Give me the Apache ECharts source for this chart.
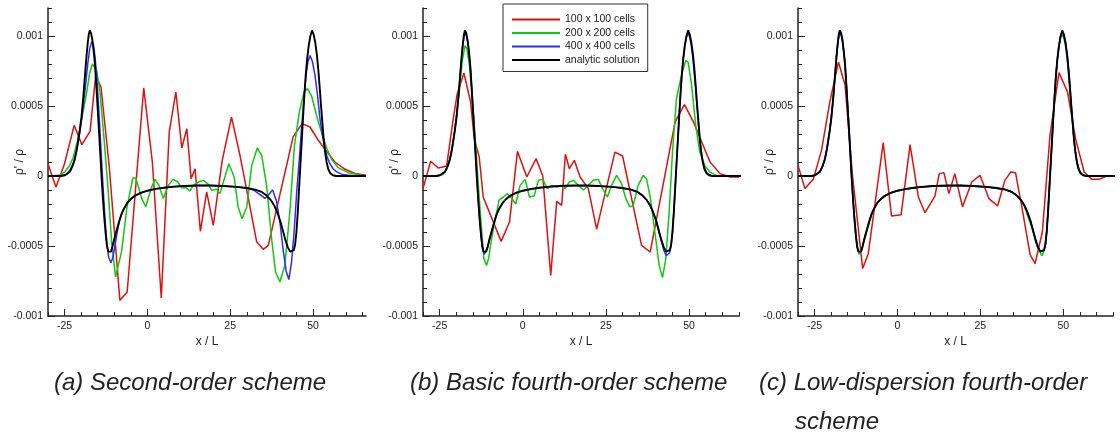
<!DOCTYPE html>
<html>
<head>
<meta charset="utf-8">
<script src="https://cdn.jsdelivr.net/npm/echarts@6/dist/echarts.min.js"></script>
<style>
  html, body { margin: 0; padding: 0; background: #fff; }
  #chart { width: 1120px; height: 440px; }
</style>
</head>
<body>
<div id="chart"></div>
<script>
// axis ticks / labels
const xMajorTicks = [-25, 0, 25, 50];
const xMinorTicks = [-30, -20, -15, -10, -5, 5, 10, 15, 20, 30, 35, 40, 45, 55, 60, 65];
const yMajorTicks = [-0.001, -0.0005, 0, 0.0005, 0.001];
const yTickLabels = ["-0.001", "-0.0005", "0", "0.0005", "0.001"];
const yMinorTicks = [-0.0009, -0.0008, -0.0007, -0.0006, -0.0004, -0.0003, -0.0002, -0.0001,
  0.0001, 0.0002, 0.0003, 0.0004, 0.0006, 0.0007, 0.0008, 0.0009, 0.0011, 0.0012];
const seriesNames = ["100 x 100 cells", "200 x 200 cells", "400 x 400 cells", "analytic solution"];
const captions = ["(a) Second-order scheme", "(b) Basic fourth-order scheme", "(c) Low-dispersion fourth-order", "scheme"];

// analytic solution (same in all panels)
const analytic = [[-30,0],[-26,0],[-24.9,0.000005],[-23.4,0.00003],[-22.6,0.00007],[-21.9,0.00012],[-21.3,0.00019],[-20.9,0.00025],[-20.4,0.00033],[-19.9,0.00042],[-19.4,0.00055],[-18.9,0.0007],[-18.4,0.00085],[-18.0,0.00095],[-17.7,0.00101],[-17.4,0.00104],[-17.0,0.00102],[-16.6,0.00097],[-16.2,0.00089],[-15.8,0.00079],[-15.4,0.00064],[-15.0,0.00048],[-14.6,0.00032],[-14.2,0.00015],[-13.8,-0.00002],[-13.4,-0.00017],[-13.0,-0.0003],[-12.6,-0.00041],[-12.2,-0.0005],[-11.8,-0.00054],[-11.4,-0.00055],[-11.0,-0.00054],[-10.6,-0.00051],[-10.0,-0.00045],[-9.3,-0.00039],[-8.6,-0.00033],[-7.8,-0.00027],[-7.0,-0.00023],[-6.0,-0.00019],[-5.0,-0.000165],[-3.7,-0.00014],[-2.0,-0.00012],[0,-0.000105],[2.5,-0.000092],[5,-0.000084],[8,-0.000076],[11,-0.000071],[15,-0.000068],[19,-0.000068],[23,-0.000071],[27,-0.000078],[30,-0.000086],[32.5,-0.000097],[34.5,-0.000114],[36,-0.00014],[37.2,-0.00017],[38.3,-0.00021],[39.2,-0.00026],[40.1,-0.00032],[40.9,-0.00039],[41.7,-0.00046],[42.4,-0.00051],[43.1,-0.00054],[43.7,-0.00055],[44.2,-0.00053],[44.6,-0.00049],[45.0,-0.0004],[45.4,-0.00026],[45.8,-0.00009],[46.2,0.00008],[46.6,0.00025],[47.0,0.00042],[47.4,0.00058],[47.8,0.00072],[48.2,0.00083],[48.7,0.00093],[49.2,0.001],[49.7,0.00104],[50.2,0.00101],[50.7,0.00095],[51.2,0.00086],[51.6,0.00076],[52.0,0.00064],[52.4,0.00051],[52.8,0.00039],[53.2,0.00027],[53.6,0.00018],[54.1,0.0001],[54.6,0.00005],[55.2,0.00002],[56,0.000005],[57,0],[66,0]];

// (a) second-order scheme
const redA = [[-30,0.000085],[-27.6,-0.000079],[-25.1,0.00008],[-22.1,0.000362],[-19.8,0.000224],[-17.3,0.000319],[-15.6,0.000719],[-14.0,0.000636],[-11.5,0.000064],[-8.3,-0.000888],[-6.1,-0.000829],[-1.1,0.000629],[1.5,0.0001],[4.2,-0.000871],[6.6,0.000314],[8.6,0.0006],[10.4,0.0002],[11.9,0.000338],[13.2,-0.000019],[14.4,0.000052],[16.0,-0.000395],[17.9,-0.000114],[19.9,-0.000352],[22.6,0.000112],[25.4,0.000421],[27.95,0.000148],[30.5,-0.000162],[33.0,-0.000471],[35.0,-0.000524],[36.5,-0.000495],[44.0,0.000279],[46.7,0.000374],[49.1,0.00035],[51.6,0.000255],[54.1,0.000176],[56.6,0.0001],[59.7,0.000048],[62.5,0.00002],[66,0.000005]];
const greenA = [[-30,0],[-26.5,0.000005],[-24.9,0.00003],[-23.6,0.00007],[-22.4,0.00013],[-21.1,0.00025],[-19.8,0.00041],[-18.3,0.0006],[-17.4,0.00074],[-16.6,0.0008],[-15.3,0.000755],[-14.3,0.0006],[-13.0,0.000243],[-11.8,-0.000114],[-10.8,-0.00047],[-9.6,-0.00072],[-7.8,-0.00054],[-6.2,-0.00023],[-4.4,-0.000014],[-3.5,-0.000014],[-1.7,-0.00016],[-0.5,-0.00022],[1.1,-0.00009],[2.3,-0.000024],[3.5,-0.000067],[4.8,-0.00016],[6.3,-0.000067],[7.8,-0.000024],[9.2,-0.000043],[10.4,-0.000086],[11.6,-0.000083],[12.8,-0.000107],[13.9,-0.000067],[15.4,-0.000043],[16.9,-0.000031],[18.4,-0.00006],[19.4,-0.000102],[20.9,-0.000095],[21.9,-0.000126],[24.6,0.000088],[26.2,-0.000007],[27.4,-0.000221],[28.6,-0.000305],[30.0,-0.000221],[31.5,0.000076],[33.2,0.0002],[34.5,0.000148],[36.0,-0.000067],[37.5,-0.000448],[38.7,-0.000686],[40.0,-0.000757],[41.5,-0.000638],[43.0,-0.000257],[44.4,0.000219],[45.9,0.00046],[47.3,0.0006],[48.3,0.000624],[49.6,0.00057],[51.1,0.00043],[52.6,0.00031],[54.1,0.0002],[55.6,0.00012],[57.6,0.00006],[60.6,0.000024],[64.7,0.000005],[66,0.000003]];
const blueA = [[-30,0],[-26,0.000003],[-24.5,0.00001],[-23.4,0.00004],[-22.4,0.00009],[-21.4,0.00018],[-20.4,0.00031],[-19.5,0.00047],[-18.7,0.00064],[-18.0,0.0008],[-17.4,0.00091],[-16.8,0.00096],[-16.3,0.00094],[-15.8,0.00085],[-15.3,0.00071],[-14.8,0.00053],[-14.3,0.00032],[-13.8,0.0001],[-13.3,-0.00011],[-12.8,-0.0003],[-12.3,-0.00046],[-11.7,-0.00058],[-11.0,-0.00062],[-10.4,-0.00058],[-9.8,-0.0005],[-9.1,-0.0004],[-8.3,-0.00031],[-7.4,-0.00025],[-6.3,-0.0002],[-5.0,-0.000165],[-3.7,-0.00014],[-2,-0.00012],[0,-0.000105],[2.5,-0.000092],[5,-0.000084],[8,-0.000076],[11,-0.000071],[15,-0.000068],[19,-0.000068],[23,-0.000071],[27,-0.000078],[30,-0.000086],[32,-0.0001],[33.8,-0.00013],[35.5,-0.00016],[36.7,-0.00013],[37.8,-0.0001],[39.0,-0.00018],[40.0,-0.00033],[41.0,-0.00053],[41.9,-0.00068],[42.7,-0.00074],[43.5,-0.00062],[44.3,-0.0004],[45.1,-0.00011],[45.9,0.00013],[46.6,0.00036],[47.3,0.00056],[47.9,0.00072],[48.5,0.00082],[49.1,0.00086],[49.8,0.00082],[50.6,0.00072],[51.4,0.00057],[52.1,0.00041],[52.8,0.0003],[53.4,0.00022],[54.2,0.00014],[55.1,0.000088],[56.1,0.00005],[57.2,0.000029],[59,0.00001],[62,0.000002],[66,0]];

// (b) basic fourth-order scheme
const redB = [[-30,-0.00009],[-27.7,0.000105],[-25.4,0.000057],[-22.9,0.000071],[-20.9,0.00041],[-19.7,0.000588],[-17.7,0.000736],[-15.7,0.000529],[-14.6,0.000267],[-13.1,0.000136],[-11.9,-0.00015],[-6.5,-0.000467],[-4.0,-0.000329],[-1.6,0.000176],[1.2,-0.000007],[4.0,0.000124],[6.0,0.0],[8.4,-0.00071],[10.2,-0.000181],[11.7,-0.00021],[12.8,0.000155],[14.0,0.000052],[15.5,0.000112],[17.2,-0.000005],[19.7,-0.00009],[22.2,-0.00038],[27.7,0.000171],[30.0,0.000143],[35.7,-0.000495],[38.3,-0.000543],[45.8,0.000386],[48.6,0.00051],[51.3,0.000386],[53.8,0.000243],[56.3,0.0001],[59.3,0.000017],[62.3,-0.000007],[65,-0.000007]];
const greenB = [[-30,0],[-26,0.000002],[-24,0.00001],[-22.8,0.00005],[-21.9,0.00012],[-20.9,0.00025],[-19.9,0.00043],[-19.0,0.00063],[-18.2,0.00082],[-17.4,0.00093],[-16.8,0.00091],[-16.1,0.0008],[-15.4,0.00062],[-14.7,0.0004],[-14.0,0.00016],[-13.2,-0.00012],[-12.4,-0.00038],[-11.7,-0.00059],[-10.9,-0.00064],[-10.2,-0.00058],[-9.4,-0.00045],[-8.2,-0.0003],[-7.1,-0.00017],[-5.8,-0.00015],[-4.6,-0.000126],[-3.3,-0.00016],[-2.1,-0.0002],[-0.8,-0.000067],[0.7,-0.000024],[2.0,-0.00015],[3.4,-0.000143],[4.7,-0.000031],[6.0,-0.000024],[7.4,-0.00009],[8.7,-0.000067],[10.2,-0.000079],[11.4,-0.000067],[12.7,-0.00009],[14.0,-0.000043],[15.2,-0.000031],[16.7,-0.000067],[18.2,-0.0001],[19.7,-0.000067],[21.2,-0.000031],[22.7,-0.000024],[24.0,-0.00009],[25.4,-0.00015],[26.7,-0.000067],[28.2,0.000005],[29.7,-0.000055],[31.0,-0.000162],[32.2,-0.000221],[33.2,-0.00021],[34.7,-0.000067],[36.2,0.000005],[37.2,-0.000019],[38.4,-0.000162],[39.7,-0.0004],[41.0,-0.000638],[42.0,-0.000726],[43.0,-0.00059],[44.0,-0.000257],[45.0,0.000171],[46.2,0.000552],[47.7,0.000719],[49.0,0.000826],[49.7,0.000814],[50.7,0.00066],[52.0,0.000362],[53.2,0.000171],[54.7,0.000076],[56.2,0.000029],[58.2,0.000003],[65,0]];
const blueB = [[-30,0],[-26,0],[-24.9,0.000006],[-23.4,0.00003],[-22.6,0.00007],[-21.9,0.00012],[-21.3,0.00019],[-20.4,0.00033],[-19.4,0.00055],[-18.9,0.0007],[-18.4,0.00084],[-18.0,0.00094],[-17.6,0.001],[-17.3,0.00102],[-16.9,0.001],[-16.5,0.00095],[-16.1,0.00087],[-15.7,0.00076],[-15.3,0.00061],[-14.9,0.00045],[-14.5,0.00029],[-14.1,0.00012],[-13.7,-0.00005],[-13.3,-0.0002],[-12.9,-0.00033],[-12.5,-0.00044],[-12.1,-0.00052],[-11.6,-0.00056],[-11.1,-0.00055],[-10.6,-0.00051],[-10.0,-0.00045],[-9.3,-0.00039],[-8.6,-0.00033],[-7.8,-0.00027],[-7.0,-0.00023],[-6.0,-0.00019],[-5.0,-0.000165],[-3.7,-0.00014],[-2.0,-0.00012],[0,-0.000105],[5,-0.000084],[11,-0.000071],[19,-0.000068],[27,-0.000078],[32.5,-0.000097],[34.5,-0.000114],[36,-0.00014],[37.2,-0.00017],[38.3,-0.00021],[39.2,-0.00026],[40.1,-0.00032],[40.9,-0.0004],[41.7,-0.00047],[42.4,-0.00053],[43.1,-0.00057],[43.6,-0.00058],[44.1,-0.00055],[44.6,-0.0005],[45.0,-0.0004],[45.4,-0.00026],[45.8,-0.00009],[46.2,0.00008],[46.6,0.00025],[47.0,0.00042],[47.4,0.00058],[47.8,0.00072],[48.2,0.00083],[48.7,0.00093],[49.2,0.00099],[49.6,0.00102],[50.1,0.001],[50.6,0.00094],[51.1,0.00085],[51.5,0.00075],[51.9,0.00064],[52.3,0.00052],[52.7,0.0004],[53.1,0.00029],[53.5,0.0002],[54.0,0.00012],[54.6,0.00006],[55.2,0.000025],[56,0.000008],[57,0],[65,0]];

// (c) low-dispersion fourth-order scheme
const redC = [[-30,0.000076],[-27.9,-0.00009],[-25.4,-0.000024],[-22.9,0.000183],[-20.4,0.000529],[-17.8,0.000814],[-15.8,0.000648],[-13.6,0.00001],[-10.5,-0.00066],[-8.8,-0.000555],[-4.3,0.000238],[-1.8,-0.000286],[1.1,-0.000276],[3.8,0.000224],[6.3,-0.00015],[8.3,-0.000262],[11.3,-0.000143],[12.6,0.000017],[14.0,0.000024],[15.5,-0.000126],[17.3,0.000017],[19.6,-0.000221],[22.4,-0.000043],[24.9,0.000005],[27.6,-0.000162],[30.2,-0.000214],[32.4,-0.000031],[34.2,0.000029],[35.6,0.000024],[37.8,-0.00026],[40.0,-0.000562],[41.5,-0.000626],[43.7,-0.0004],[46.0,0.00029],[48.7,0.000738],[51.3,0.0006],[53.7,0.000267],[56.3,0.000029],[58.6,-0.000024],[60.8,-0.000024],[63.1,0],[65,0]];
const greenC = [[-30,0],[-26,0],[-24.9,0.000006],[-23.4,0.00003],[-22.6,0.00007],[-21.9,0.00012],[-21.3,0.00019],[-20.4,0.00033],[-19.4,0.00055],[-18.9,0.0007],[-18.4,0.00085],[-18.0,0.00095],[-17.6,0.001],[-17.3,0.00102],[-16.9,0.001],[-16.5,0.00095],[-16.1,0.00087],[-15.7,0.00077],[-15.3,0.00062],[-14.9,0.00046],[-14.5,0.0003],[-14.1,0.00013],[-13.7,-0.00004],[-13.3,-0.00019],[-12.9,-0.00032],[-12.5,-0.00043],[-12.1,-0.00051],[-11.6,-0.00056],[-11.1,-0.00055],[-10.6,-0.00051],[-10.0,-0.00046],[-9.3,-0.0004],[-8.6,-0.00034],[-7.8,-0.00028],[-7.0,-0.00023],[-6.0,-0.00019],[-5.0,-0.000165],[-3.7,-0.00014],[-2.0,-0.00012],[0,-0.000105],[5,-0.000084],[11,-0.000071],[19,-0.000068],[27,-0.000078],[32.5,-0.000097],[34.5,-0.000116],[36,-0.00014],[37.2,-0.00017],[38.3,-0.00022],[39.2,-0.00028],[40.1,-0.00034],[40.9,-0.0004],[41.7,-0.00047],[42.4,-0.00052],[43.1,-0.00055],[43.6,-0.00057],[44.1,-0.00054],[44.6,-0.00049],[45.0,-0.0004],[45.4,-0.00026],[45.8,-0.00009],[46.2,0.00008],[46.6,0.00025],[47.0,0.00042],[47.4,0.00058],[47.8,0.00072],[48.2,0.00083],[48.7,0.00093],[49.2,0.00099],[49.6,0.00101],[50.1,0.00099],[50.6,0.00094],[51.1,0.00085],[51.5,0.00075],[51.9,0.00064],[52.3,0.00052],[52.7,0.0004],[53.1,0.00029],[53.5,0.0002],[54.0,0.00012],[54.6,0.00006],[55.2,0.000025],[56,0.000008],[57,0],[65,0]];
const blueC = [[-30,0],[-26,0],[-24.9,0.000005],[-23.4,0.00003],[-22.6,0.00007],[-21.9,0.00012],[-21.3,0.00019],[-20.4,0.00033],[-19.4,0.00055],[-18.9,0.0007],[-18.4,0.00085],[-18.0,0.00095],[-17.7,0.00101],[-17.4,0.00104],[-17.0,0.00102],[-16.6,0.00097],[-16.2,0.00089],[-15.8,0.00079],[-15.4,0.00064],[-15.0,0.00048],[-14.6,0.00032],[-14.2,0.00015],[-13.8,-0.00002],[-13.4,-0.00017],[-13.0,-0.0003],[-12.6,-0.00041],[-12.2,-0.0005],[-11.8,-0.00054],[-11.4,-0.00055],[-11.0,-0.00054],[-10.6,-0.00051],[-10.0,-0.00045],[-9.3,-0.00039],[-8.6,-0.00033],[-7.8,-0.00027],[-7.0,-0.00023],[-6.0,-0.00019],[-5.0,-0.000165],[-3.7,-0.00014],[-2.0,-0.00012],[0,-0.000105],[5,-0.000084],[11,-0.000071],[19,-0.000068],[27,-0.000078],[32.5,-0.000097],[34.5,-0.000114],[36,-0.00014],[37.2,-0.00017],[38.3,-0.00021],[39.2,-0.00026],[40.1,-0.00032],[40.9,-0.00039],[41.7,-0.00046],[42.4,-0.00051],[43.1,-0.00054],[43.7,-0.00055],[44.2,-0.00053],[44.6,-0.00049],[45.0,-0.0004],[45.4,-0.00026],[45.8,-0.00009],[46.2,0.00008],[46.6,0.00025],[47.0,0.00042],[47.4,0.00058],[47.8,0.00072],[48.2,0.00083],[48.7,0.00093],[49.2,0.001],[49.7,0.00103],[50.2,0.001],[50.7,0.00095],[51.2,0.00086],[51.6,0.00076],[52.0,0.00064],[52.4,0.00051],[52.8,0.00039],[53.2,0.00027],[53.6,0.00018],[54.1,0.0001],[54.6,0.00005],[55.2,0.00002],[56,0.000005],[57,0],[65,0]];

const panelData = [
  [redA, greenA, blueA, analytic],
  [redB, greenB, blueB, analytic],
  [redC, greenC, blueC, analytic],
];

const colors = ["#dd1111", "#11c811", "#2b2bff", "#000000"];
const widths = [1.5, 1.5, 1.5, 1.9];
const fontFam = '"Liberation Sans", Arial, sans-serif';
const axisColor = "#222";

const panels = [
  { left: 48, width: 318, xMax: 66 },
  { left: 423, width: 316, xMax: 65 },
  { left: 798, width: 315, xMax: 65 },
];

const chart = echarts.init(document.getElementById("chart"), null, { renderer: "canvas" });

function yLabel(v) {
  for (let i = 0; i < yMajorTicks.length; i++) {
    if (Math.abs(v - yMajorTicks[i]) < 1e-9) return yTickLabels[i];
  }
  return "";
}

let grid = [], xAxis = [], yAxis = [], series = [];
panels.forEach((p, k) => {
  grid.push({ left: p.left, top: 8, width: p.width, height: 308 });
  // main x axis
  xAxis.push({
    type: "value", gridIndex: k, min: -30, max: p.xMax, position: "bottom",
    name: "x / L", nameLocation: "middle", nameGap: 20, nameMoveOverlap: false,
    nameTextStyle: { fontFamily: fontFam, fontSize: 12, color: "#222" },
    axisLine: { onZero: false, lineStyle: { color: axisColor, width: 1.5 } },
    axisTick: { inside: true, length: 7, customValues: xMajorTicks, lineStyle: { color: axisColor } },
    axisLabel: { customValues: xMajorTicks, fontFamily: fontFam, fontSize: 10.5, color: "#222", margin: 5 },
    splitLine: { show: false },
  });
  // minor x ticks
  xAxis.push({
    type: "value", gridIndex: k, min: -30, max: p.xMax, position: "bottom", offset: 0,
    axisLine: { show: false, onZero: false },
    axisTick: { inside: true, length: 4, customValues: xMinorTicks, lineStyle: { color: axisColor } },
    axisLabel: { show: false },
    splitLine: { show: false },
  });
  yAxis.push({
    type: "value", gridIndex: k, min: -0.001, max: 0.0012, position: "left",
    name: "ρ' / ρ", nameLocation: "middle", nameGap: 22, nameMoveOverlap: false,
    nameTextStyle: { fontFamily: fontFam, fontSize: 12, color: "#222" },
    axisLine: { onZero: false, lineStyle: { color: axisColor, width: 1.5 } },
    axisTick: { inside: true, length: 7, customValues: yMajorTicks, lineStyle: { color: axisColor } },
    axisLabel: { customValues: yMajorTicks, formatter: yLabel, fontFamily: fontFam, fontSize: 10.5, color: "#222", margin: 5 },
    splitLine: { show: false },
  });
  yAxis.push({
    type: "value", gridIndex: k, min: -0.001, max: 0.0012, position: "left", offset: 0,
    axisLine: { show: false, onZero: false },
    axisTick: { inside: true, length: 4, customValues: yMinorTicks, lineStyle: { color: axisColor } },
    axisLabel: { show: false },
    splitLine: { show: false },
  });
  panelData[k].forEach((d, i) => {
    series.push({
      name: seriesNames[i], type: "line", xAxisIndex: 2 * k, yAxisIndex: 2 * k,
      data: d, symbol: "none", showSymbol: false, clip: true,
      lineStyle: { color: colors[i], width: widths[i] },
      itemStyle: { color: colors[i] },
      z: 2 + i,
    });
  });
});

chart.setOption({
  animation: false,
  backgroundColor: "#fff",
  grid: grid,
  xAxis: xAxis,
  yAxis: yAxis,
  legend: {
    data: seriesNames, orient: "vertical", left: 503, top: 4,
    padding: [10, 8, 6, 8], itemGap: 2.5, itemWidth: 48, itemHeight: 10,
    borderColor: "#333", borderWidth: 1, backgroundColor: "#fff",
    itemStyle: { opacity: 0 },
    textStyle: { fontFamily: fontFam, fontSize: 10.5, color: "#222" },
    selectedMode: false,
  },
  graphic: [
    { type: "text", left: 54, top: 371, style: { text: captions[0], font: "italic 24px " + fontFam, fill: "#222" } },
    { type: "text", left: 410, top: 371, style: { text: captions[1], font: "italic 24px " + fontFam, fill: "#222" } },
    { type: "text", left: 759, top: 371, style: { text: captions[2], font: "italic 24px " + fontFam, fill: "#222" } },
    { type: "text", left: 795, top: 410, style: { text: captions[3], font: "italic 24px " + fontFam, fill: "#222" } },
  ],
  series: series,
});
</script>
</body>
</html>
